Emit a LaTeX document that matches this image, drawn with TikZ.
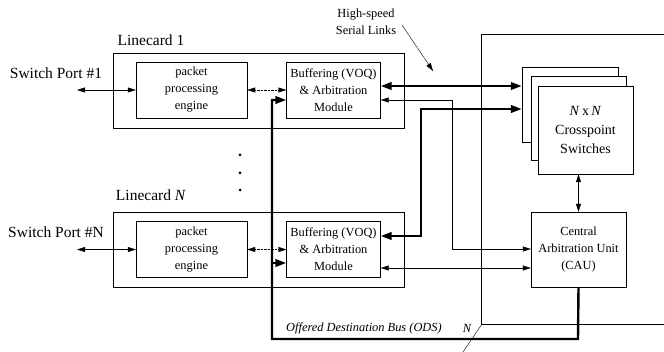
\documentclass[tikz,border=0pt]{standalone}
\usepackage{fontspec}
\setmainfont{Liberation Serif}
\usetikzlibrary{arrows.meta,calc}
\newcommand{\bigtxt}{\fontsize{15.5}{19}\selectfont}
\newcommand{\smalltxt}{\fontsize{12.4}{17}\selectfont}
\tikzset{>={Triangle[length=8pt,width=5pt]},every node/.style={font=\smalltxt},
  line width=.8pt,
  card/.style={draw,minimum width=291pt,minimum height=75pt,inner sep=0pt},
  unit/.style={draw,fill=white,align=center,inner sep=0pt},
  bus/.style={line width=2.4pt,>={Triangle[length=11pt,width=7.5pt]}}}
\begin{document}
\begin{tikzpicture}[x=1pt,y=-1pt]
\useasboundingbox (0,0) rectangle (664,352);
% linecards
\node[card] (lc1) at (258.5,90.5){};\node[card] (lcN) at (258.5,249.5){};
\node[font=\bigtxt] (lc1lbl) at (151,40){Linecard 1};\node[font=\bigtxt] (lcNlbl) at (151,195){Linecard \textit{N}};
\node[unit,minimum width=111pt,minimum height=56pt] (ppe1) at (191.5,90){packet\\processing\\engine};
\node[unit,minimum width=94pt,minimum height=56pt] (buf1) at (333.5,90){Buffering (VOQ)\\\&~Arbitration\\Module};
\node[unit,minimum width=111pt,minimum height=56pt] (ppeN) at (191.5,249.5){packet\\processing\\engine};
\node[unit,minimum width=94pt,minimum height=56pt] (bufN) at (333.5,249.5){Buffering (VOQ)\\\&~Arbitration\\Module};
\node[font=\bigtxt] (sp1) at (56,73){Switch Port \#1};\node[font=\bigtxt] (spN) at (56,232){Switch Port \#N};
\coordinate (p1) at (77,90);\coordinate (pN) at (77,249.5);
\draw[<->] (p1)--(ppe1.west);\draw[<->] (pN)--(ppeN.west);
\draw[<->,densely dotted] (ppe1.east)--(buf1.west);\draw[<->,densely dotted] (ppeN.east)--(bufN.west);
\fill (240,155) circle (1.5);\fill (240,173) circle (1.5);\fill (240,190) circle (1.5);
% switch fabric
\draw (664,34)--(481,34)--(481,324)--(664,324);
\node[unit,minimum width=96pt,minimum height=75pt] (xb3) at (570,104.5){};
\node[unit,minimum width=95pt,minimum height=84pt] (xb2) at (578.5,118){};
\node[unit,minimum width=95pt,minimum height=88pt,font=\fontsize{14}{19}\selectfont] (xb1) at (585.5,130){\textit{N}\,x\,\textit{N}\\Crosspoint\\Switches};
\node[unit,minimum width=95pt,minimum height=75pt] (cau) at (578.5,249.5){Central\\Arbitration Unit\\(CAU)};
\draw[<->] (cau.north |- xb1.south)--(cau.north);
% links
\draw[bus,<->] (buf1.east |- 0,86)--(xb3.west |- 0,86);
\draw[bus,<->] (bufN.east |- 0,236)--(421,236)--(421,109)--(xb3.west |- 0,109);
\draw[<->] (buf1.east |- 0,100)--(452,100)--(452,249)--(cau.west |- 0,249);
\draw[<->] (bufN.east |- 0,268)--(cau.west |- 0,268);
% offered destination bus
\draw[bus,->,line join=miter] (cau.south)--(578,339)--(272,339)--(272,100)--(buf1.west |- 0,100);
\draw[bus,->] (272,263)--(bufN.west |- 0,263);
\node[font=\smalltxt\itshape] (ods) at (364,328){Offered Destination Bus (ODS)};
\node[font=\smalltxt\itshape] (nbits) at (467,328){N};
\draw (463,352)--(482,324);
\node[align=center] (hsl) at (366,22){High-speed\\Serial Links};
\coordinate (hs) at (433,71);\draw[->] (402,25)--(hs);
\end{tikzpicture}
\end{document}
